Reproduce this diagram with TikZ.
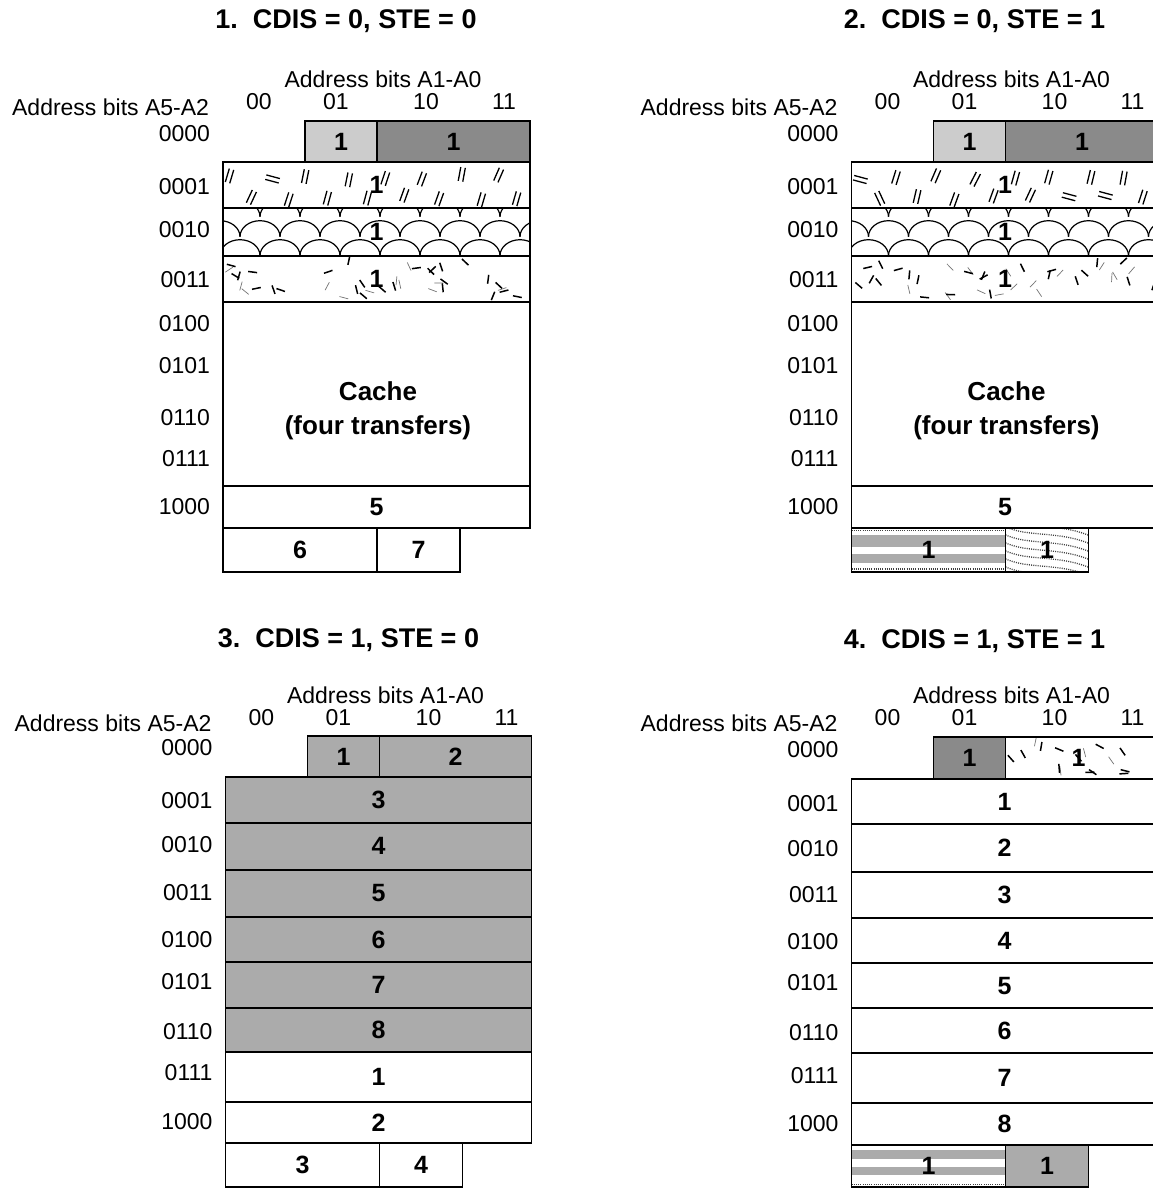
\documentclass[tikz,border=0pt]{standalone}
\usepackage{fontspec}
\setmainfont{Liberation Sans}

\tikzset{
  lab/.style={font=\fontsize{23}{23}\selectfont, inner sep=0pt, outer sep=0pt},
  rowlab/.style={lab, anchor=east},
  num/.style={font=\bfseries\fontsize{25}{25}\selectfont, inner sep=0pt},
  big/.style={font=\bfseries\fontsize{26}{26}\selectfont, inner sep=0pt},
  ttl/.style={font=\bfseries\fontsize{27}{27}\selectfont, inner sep=0pt},
  box/.style={line width=1.8pt},
  lightcell/.style={fill=black!20},
  midcell/.style={fill=black!33},
  darkcell/.style={fill=black!46},
  dotline/.style={line width=1.3pt, dash pattern=on 1pt off 1.2pt, black!75},
  scal/.style={line width=1.2pt},
}

% random "//" marks
\newcommand{\pairmarks}[5]{%
  \begin{scope}
  \clip (#1,#2) rectangle (#3,#4);
  \pgfmathsetseed{#5}
  \pgfmathtruncatemacro{\rmN}{(#3-#1)/19+1}
  \foreach \i in {0,...,\rmN}{
    \pgfmathsetmacro{\rmX}{#1+6+\i*19+6*rnd}
    \pgfmathsetmacro{\rmY}{#2+12+mod(\i,2)*20+6*rnd}
    \pgfmathsetmacro{\rmR}{rnd}
    \pgfmathsetmacro{\rmA}{ifthenelse(\rmR<0.18,165,ifthenelse(\rmR<0.3,115,62+18*rnd))}
    \begin{scope}[shift={(\rmX,\rmY)},rotate=\rmA]
      \draw[line width=1.3pt] (-7,-2.3)--(7,-2.3) (-7,2.3)--(7,2.3);
    \end{scope}
  }
  \end{scope}}

% random short dashes
\newcommand{\dashmarks}[5]{%
  \begin{scope}
  \clip (#1,#2) rectangle (#3,#4);
  \pgfmathsetseed{#5}
  \pgfmathtruncatemacro{\rmN}{(#3-#1)*(#4-#2)*0.0027}
  \foreach \i in {1,...,\rmN}{
    \pgfmathsetmacro{\rmX}{#1+3+(#3-#1-6)*rnd}
    \pgfmathsetmacro{\rmY}{#2+4+(#4-#2-8)*rnd}
    \pgfmathsetmacro{\rmA}{180*rnd}
    \pgfmathsetmacro{\rmR}{rnd}
    \pgfmathsetmacro{\rmW}{ifthenelse(\rmR<0.45,0.7,1.5)}
    \pgfmathtruncatemacro{\rmC}{ifthenelse(\rmR<0.45,55,100)}
    \begin{scope}[shift={(\rmX,\rmY)},rotate=\rmA]
      \draw[line width=\rmW pt, black!\rmC] (-4.5,0)--(4.5,0);
    \end{scope}
  }
  \end{scope}}

% fish-scale arcs
\newcommand{\scallop}[4]{%
  \begin{scope}
  \clip (#1,#2) rectangle (#3,#4);
  \foreach \k in {-1,...,8}{
    \draw[scal] ({#1-3+40*\k},{#2+9}) arc[start angle=180,end angle=360,x radius=20,y radius=16];
    \draw[scal] ({#1+17+40*\k},{#2+29}) arc[start angle=180,end angle=360,x radius=20,y radius=16];
    \draw[scal] ({#1-3+40*\k},{#4}) arc[start angle=180,end angle=360,x radius=20,y radius=16];
  }
  \end{scope}}

\newcommand{\panelhead}[5]{% prefix, dx, dy, title, title y
  \node[ttl] (#1title) at ({346+#2},{#5}) {#4};
  \node[lab] (#1hcol) at ({383+#2},{79+#3}) {Address bits A1-A0};
  \node[lab,anchor=east] (#1hrow) at ({209+#2},{107+#3}) {Address bits A5-A2};
  \node[lab] (#1cA) at ({259+#2},{102+#3}) {00};
  \node[lab] (#1cB) at ({336+#2},{102+#3}) {01};
  \node[lab] (#1cC) at ({426+#2},{102+#3}) {10};
  \node[lab] (#1cD) at ({504+#2},{102+#3}) {11};
}

\newcommand{\rowlabs}[2]{%
  \foreach \yy/\lab in {#2} \node[rowlab] (#1r\lab) at (210,\yy) {\lab};}

\newcommand{\cacheblock}[2]{% prefix, seed
  \path[lightcell] (305,121) rectangle (377,162);
  \path[darkcell] (377,121) rectangle (530,162);
  \pairmarks{223}{162}{530}{207.7}{#2}
  \scallop{223}{207.7}{530}{255.7}
  \dashmarks{223}{255.7}{530}{301.7}{#2}
  \draw[box] (305,121) rectangle (530,162) (377,121) -- (377,162);
  \draw[box] (223,162) rectangle (530,528);
  \draw[box] (223,207.7) -- (530,207.7) (223,255.7) -- (530,255.7)
             (223,301.7) -- (530,301.7) (223,486) -- (530,486);
  \node[num] (#1ta) at (341,141.5) {1};
  \node[num] (#1tb) at (453.5,141.5) {1};
  \node[num] (#1ra) at (376.5,184.8) {1};
  \node[num] (#1rb) at (376.5,231.7) {1};
  \node[num] (#1rc) at (376.5,278.7) {1};
  \node[big,anchor=base] (#1cacheA) at (378,400.7) {Cache};
  \node[big,anchor=base] (#1cacheB) at (378,434) {(four transfers)};
  \node[num] (#1five) at (376.5,507) {5};
}

\begin{document}
\begin{tikzpicture}[x=1pt,y=-1pt]
\clip (0,0) rectangle (1153,1195);
\fill[white] (0,0) rectangle (1153,1195);

% ================= Panel 1
\panelhead{p1}{0}{0}{1.~~CDIS = 0, STE = 0}{21}
\begin{scope}
  \rowlabs{p1}{134/0000,187/0001,230/0010,280/0011,324/0100,366/0101,418/0110,459/0111,507/1000}
  \cacheblock{p1}{3}
  \draw[box] (223,528) rectangle (460,571.7) (377,528) -- (377,571.7);
  \node[num] (p1six) at (300,549.8) {6};
  \node[num] (p1seven) at (418.5,549.8) {7};
\end{scope}

% ================= Panel 2
\panelhead{p2}{628.5}{0}{2.~~CDIS = 0, STE = 1}{21}
\begin{scope}[shift={(628.5,0)}]
  \rowlabs{p2}{134/0000,187/0001,230/0010,280/0011,324/0100,366/0101,418/0110,459/0111,507/1000}
  \cacheblock{p2}{5}
  \path[midcell] (223,535) rectangle (377,546.5);
  \path[midcell] (223,553.5) rectangle (377,562.5);
  \draw[dotline] (223,530.5) -- (377,530.5) (223,569) -- (377,569);
  \begin{scope}
    \clip (377,528) rectangle (460,571.7);
    \foreach \j in {0,...,6}
      \draw[dotline] (375,{518+8*\j}) .. controls (400,{530+8*\j}) and (428,{522+8*\j}) .. (462,{536+8*\j});
  \end{scope}
  \draw[box] (223,528) rectangle (460,571.7) (377,528) -- (377,571.7);
  \node[num] (p2bl) at (300,549.8) {1};
  \node[num] (p2br) at (418.5,549.8) {1};
\end{scope}

% ================= Panel 3
\panelhead{p3}{2.5}{616}{3.~~CDIS = 1, STE = 0}{640}
\begin{scope}[shift={(2.5,0)}]
  \rowlabs{p3}{748/0000,801/0001,845/0010,893/0011,940/0100,982/0101,1032/0110,1073/0111,1122/1000}
  \path[midcell] (305,735.7) rectangle (529,777.3);
  \path[midcell] (223,777.3) rectangle (529,1051.7);
  \draw[box] (305,735.7) rectangle (529,777.3) (377,735.7) -- (377,777.3);
  \draw[box] (223,777.3) rectangle (529,1143.3);
  \draw[box] (223,822.7) -- (529,822.7) (223,870) -- (529,870) (223,917) -- (529,917)
             (223,962.3) -- (529,962.3) (223,1007.7) -- (529,1007.7)
             (223,1051.7) -- (529,1051.7) (223,1102.3) -- (529,1102.3);
  \draw[box] (223,1143.3) rectangle (460,1186.7) (377,1143.3) -- (377,1186.7);
  \node[num] (p3ta) at (341,756.5) {1};
  \node[num] (p3tb) at (453,756.5) {2};
  \node[num] (p3n3) at (376,800) {3};
  \node[num] (p3n4) at (376,846.3) {4};
  \node[num] (p3n5) at (376,893.5) {5};
  \node[num] (p3n6) at (376,939.7) {6};
  \node[num] (p3n7) at (376,985) {7};
  \node[num] (p3n8) at (376,1029.7) {8};
  \node[num] (p3n1) at (376,1077) {1};
  \node[num] (p3n2) at (376,1122.8) {2};
  \node[num] (p3bl) at (300,1165) {3};
  \node[num] (p3br) at (418.5,1165) {4};
\end{scope}

% ================= Panel 4
\panelhead{p4}{628.5}{616}{4.~~CDIS = 1, STE = 1}{641}
\begin{scope}[shift={(628.5,0)}]
  \rowlabs{p4}{750/0000,804/0001,849/0010,895/0011,942/0100,983/0101,1033/0110,1076/0111,1124/1000}
  \path[darkcell] (305,736.7) rectangle (377,779);
  \dashmarks{377}{736.7}{530}{779}{21}
  \draw[box] (305,736.7) rectangle (530,779) (377,736.7) -- (377,779);
  \draw[box] (223,779) rectangle (530,1145);
  \draw[box] (223,824) -- (530,824) (223,872) -- (530,872) (223,918) -- (530,918)
             (223,963.3) -- (530,963.3) (223,1008.3) -- (530,1008.3)
             (223,1052.7) -- (530,1052.7) (223,1103.3) -- (530,1103.3);
  \path[midcell] (223,1150) rectangle (377,1159);
  \path[midcell] (223,1167) rectangle (377,1175);
  \draw[dotline] (223,1184.5) -- (377,1184.5);
  \path[midcell] (377,1145) rectangle (460,1187.3);
  \draw[box] (223,1145) rectangle (460,1187.3) (377,1145) -- (377,1187.3);
  \node[num] (p4ta) at (341,757.8) {1};
  \node[num] (p4tb) at (450,757.8) {1};
  \node[num] (p4n1) at (376,801.5) {1};
  \node[num] (p4n2) at (376,848) {2};
  \node[num] (p4n3) at (376,895) {3};
  \node[num] (p4n4) at (376,940.6) {4};
  \node[num] (p4n5) at (376,985.8) {5};
  \node[num] (p4n6) at (376,1030.5) {6};
  \node[num] (p4n7) at (376,1078) {7};
  \node[num] (p4n8) at (376,1124.2) {8};
  \node[num] (p4bl) at (300,1166) {1};
  \node[num] (p4br) at (418.5,1166) {1};
\end{scope}
\end{tikzpicture}
\end{document}
